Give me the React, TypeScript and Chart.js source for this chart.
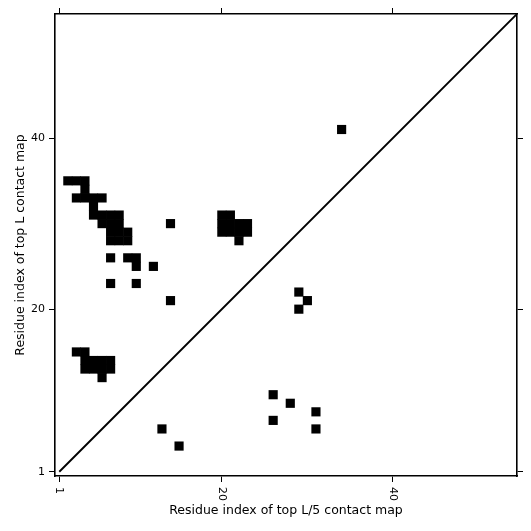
import React, { useEffect, useRef } from "react";
import { Chart, registerables } from "chart.js";

Chart.register(...registerables);

// ---- data ----
const sequenceLength = 54;
const axisTickValues = [1, 20, 40];

// top L predicted contacts (i < j), drawn above the diagonal at (i, j)
const topLResidueI = [
  34,
  2, 3, 4,
  4,
  3, 4, 5, 6,
  5,
  5, 6, 7, 8, 20, 21,
  6, 7, 8, 14, 20, 21, 22, 23,
  7, 8, 9, 20, 21, 22, 23,
  7, 8, 9, 22,
  7, 9, 10,
  10, 12,
  7, 10,
  14,
  3, 4,
  4, 5, 6, 7,
  4, 5, 6, 7,
  6,
];
const topLResidueJ = [
  41,
  35, 35, 35,
  34,
  33, 33, 33, 33,
  32,
  31, 31, 31, 31, 31, 31,
  30, 30, 30, 30, 30, 30, 30, 30,
  29, 29, 29, 29, 29, 29, 29,
  28, 28, 28, 28,
  26, 26, 26,
  25, 25,
  23, 23,
  21,
  15, 15,
  14, 14, 14, 14,
  13, 13, 13, 13,
  12,
];

// top L/5 predicted contacts (i < j), drawn below the diagonal at (j, i)
const topL5ResidueI = [6, 4, 10, 7, 9, 8, 6, 22, 21, 20];
const topL5ResidueJ = [13, 15, 26, 26, 28, 31, 31, 29, 30, 29];

const diagonalEnds = [1, sequenceLength + 0.5];

const xTitle = "Residue index of top L/5 contact map";
const yTitle = "Residue index of top L contact map";

const FONT = "'DejaVu Sans', sans-serif";
const TICK_FONT_SIZE = 11;
const TITLE_FONT_SIZE = 12.5;
const TICK_LEN = 6;

const setTicks = (scale: any) => {
  scale.ticks = axisTickValues.map((v) => ({ value: v }));
};

const fixSize = (prop: "width" | "height", size: number) => (scale: any) => {
  scale[prop] = size;
};

const rotatedXTickLabels = {
  id: "rotatedXTickLabels",
  afterDraw(chart: any) {
    const s = chart.scales.x;
    const ctx = chart.ctx;
    ctx.save();
    ctx.font = `${TICK_FONT_SIZE}px ${FONT}`;
    ctx.fillStyle = "#000";
    ctx.textAlign = "left";
    ctx.textBaseline = "middle";
    s.ticks.forEach((t: any) => {
      const px = s.getPixelForValue(t.value);
      ctx.save();
      ctx.translate(px, s.top + TICK_LEN + 5);
      ctx.rotate(Math.PI / 2);
      ctx.fillText(String(t.value), 0, 0);
      ctx.restore();
    });
    ctx.restore();
  },
};

const cellRadius = (ctx: any) => {
  const s = ctx.chart.scales.x;
  const cell = Math.abs(s.getPixelForValue(1) - s.getPixelForValue(0));
  return (cell + 0.6) / (2 * Math.SQRT1_2);
};

export default function App() {
  const canvasRef = useRef<HTMLCanvasElement | null>(null);

  useEffect(() => {
    if (!canvasRef.current) return;
    const upper = topLResidueI.map((i, k) => ({ x: i, y: topLResidueJ[k] }));
    const lower = topL5ResidueI.map((i, k) => ({ x: topL5ResidueJ[k], y: i }));
    const diag = diagonalEnds.map((v) => ({ x: v, y: v }));

    const gridCommon = {
      display: true,
      drawOnChartArea: false,
      drawTicks: true,
      tickLength: TICK_LEN,
      color: "#000",
      lineWidth: 1,
    };
    const borderCommon = { display: true, color: "#000", width: 1.6 };
    const min = 0.5;
    const max = sequenceLength + 0.5;

    const chart = new Chart(canvasRef.current, {
      type: "scatter",
      data: {
        datasets: [
          {
            label: "top L",
            data: upper,
            pointStyle: "rect",
            backgroundColor: "#000",
            borderWidth: 0,
            pointRadius: cellRadius,
            pointHoverRadius: cellRadius,
          },
          {
            label: "top L/5",
            data: lower,
            pointStyle: "rect",
            backgroundColor: "#000",
            borderWidth: 0,
            pointRadius: cellRadius,
            pointHoverRadius: cellRadius,
          },
          {
            label: "diagonal",
            data: diag,
            showLine: true,
            borderColor: "#000",
            borderWidth: 1.9,
            pointRadius: 0,
            fill: false,
          },
        ],
      },
      options: {
        responsive: false,
        animation: false,
        events: [],
        layout: { padding: 0 },
        plugins: { legend: { display: false }, tooltip: { enabled: false } },
        scales: {
          x: {
            type: "linear",
            position: "bottom",
            min,
            max,
            afterBuildTicks: setTicks,
            afterFit: fixSize("height", 55),
            grid: gridCommon,
            border: borderCommon,
            ticks: { display: false },
            title: {
              display: true,
              text: xTitle,
              color: "#000",
              font: { family: FONT, size: TITLE_FONT_SIZE },
              padding: { top: 0, bottom: 13 },
            },
          },
          x2: {
            type: "linear",
            axis: "x",
            position: "top",
            min,
            max,
            afterBuildTicks: setTicks,
            afterFit: fixSize("height", 14),
            grid: gridCommon,
            border: borderCommon,
            ticks: { display: false },
          },
          y: {
            type: "linear",
            position: "left",
            min,
            max,
            afterBuildTicks: setTicks,
            afterFit: fixSize("width", 55),
            grid: gridCommon,
            border: borderCommon,
            ticks: {
              display: true,
              color: "#000",
              padding: 4,
              font: { family: FONT, size: TICK_FONT_SIZE },
              callback: (v: any) => String(v),
            },
            title: {
              display: true,
              text: yTitle,
              color: "#000",
              font: { family: FONT, size: TITLE_FONT_SIZE },
              padding: { top: 13, bottom: 0 },
            },
          },
          y2: {
            type: "linear",
            axis: "y",
            position: "right",
            min,
            max,
            afterBuildTicks: setTicks,
            afterFit: fixSize("width", 14),
            grid: gridCommon,
            border: borderCommon,
            ticks: { display: false },
          },
        },
      } as any,
      plugins: [rotatedXTickLabels],
    });
    return () => chart.destroy();
  }, []);

  return (
    <div style={{ position: "fixed", left: 0, top: 0, width: 531, height: 531, background: "#fff" }}>
      <canvas ref={canvasRef} width={531} height={531} style={{ display: "block" }} />
    </div>
  );
}
